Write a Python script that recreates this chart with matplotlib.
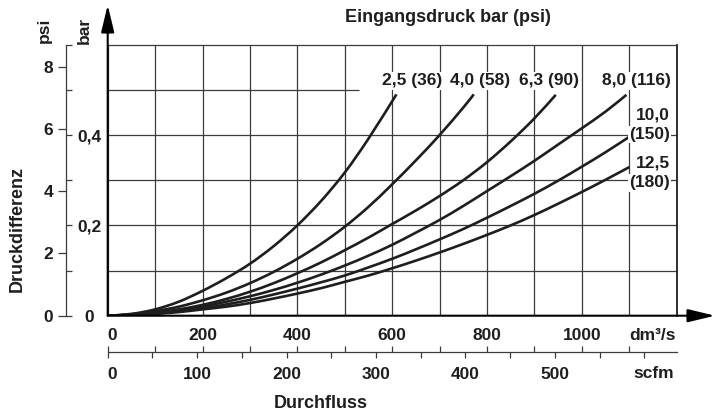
import numpy as np
import matplotlib
matplotlib.use("Agg")
import matplotlib.pyplot as plt
from matplotlib.path import Path
from matplotlib.patches import PathPatch

plt.rcParams["font.family"] = ["Liberation Sans", "DejaVu Sans"]
plt.rcParams["font.weight"] = "bold"

W, H = 715, 418
INK = "#1e1e1e"
GRID = "#3c3c3c"
FS = 12.5

# Durchfluss in dm3/s, Druckdifferenz in bar
flow_25 = [0, 50, 100, 150, 200, 250, 300, 350, 400, 450, 500, 550, 609]
dp_25 = [0, 0.004, 0.014, 0.031, 0.055, 0.083, 0.115, 0.154, 0.200, 0.254, 0.317, 0.392, 0.490]

flow_40 = [0, 50, 100, 150, 200, 250, 300, 350, 400, 450, 500, 550, 600, 650, 700, 750, 772]
dp_40 = [0, 0.003, 0.010, 0.020, 0.034, 0.051, 0.072, 0.097, 0.126, 0.159, 0.197, 0.241,
         0.291, 0.344, 0.400, 0.461, 0.490]

flow_63 = [0, 50, 100, 150, 200, 250, 300, 350, 400, 450, 500, 550, 600, 650, 700, 750,
           800, 850, 900, 945]
dp_63 = [0, 0.002, 0.007, 0.014, 0.024, 0.037, 0.053, 0.072, 0.094, 0.118, 0.145, 0.173,
         0.203, 0.233, 0.265, 0.300, 0.340, 0.386, 0.437, 0.489]

flow_80 = [0, 50, 100, 150, 200, 250, 300, 350, 400, 450, 500, 550, 600, 650, 700, 750,
           800, 850, 900, 950, 1000, 1050, 1094]
dp_80 = [0, 0.002, 0.006, 0.012, 0.020, 0.031, 0.043, 0.057, 0.073, 0.091, 0.111, 0.133,
         0.157, 0.184, 0.212, 0.243, 0.276, 0.309, 0.343, 0.379, 0.415, 0.452, 0.489]

flow_100 = [0, 50, 100, 150, 200, 250, 300, 350, 400, 450, 500, 550, 600, 650, 700, 750,
            800, 850, 900, 950, 1000, 1050, 1100]
dp_100 = [0, 0.001, 0.005, 0.010, 0.016, 0.025, 0.035, 0.047, 0.060, 0.074, 0.089, 0.107,
          0.126, 0.147, 0.169, 0.192, 0.217, 0.243, 0.270, 0.299, 0.330, 0.362, 0.396]

flow_125 = [0, 50, 100, 150, 200, 250, 300, 350, 400, 450, 500, 550, 600, 650, 700, 750,
            800, 850, 900, 950, 1000, 1050, 1100]
dp_125 = [0, 0.001, 0.004, 0.008, 0.014, 0.020, 0.028, 0.038, 0.049, 0.061, 0.075, 0.089,
          0.105, 0.122, 0.140, 0.159, 0.179, 0.200, 0.223, 0.248, 0.274, 0.301, 0.329]

curves = [(flow_25, dp_25), (flow_40, dp_40), (flow_63, dp_63),
          (flow_80, dp_80), (flow_100, dp_100), (flow_125, dp_125)]

top_labels = ["2,5 (36)", "4,0 (58)", "6,3 (90)", "8,0 (116)"]
top_label_x = [643, 786, 931, 1116]
side_labels = ["10,0", "(150)", "12,5", "(180)"]
side_label_y = [0.445, 0.401, 0.338, 0.294]

flow_ticks = [0, 200, 400, 600, 800, 1000]
scfm_ticks = [0, 100, 200, 300, 400, 500]
psi_ticks = [0, 2, 4, 6, 8]
bar_ticks = [0, 0.1, 0.2, 0.3, 0.4, 0.5, 0.6]
bar_ticklabels = ["0", "", "0,2", "", "0,4", "", ""]

X_MAX = 1200
BAR_MAX = 0.6
PSI_PER_BAR = 14.5038
SCFM_PER_DM3 = 0.5302


def smooth_path(xs, ys):
    # cubic bezier through the read points (catmull-rom tangents)
    p = np.column_stack([xs, ys]).astype(float)
    verts = [p[0]]
    codes = [Path.MOVETO]
    for i in range(len(p) - 1):
        p0 = p[i - 1] if i > 0 else p[i]
        p3 = p[i + 2] if i + 2 < len(p) else p[i + 1]
        c1 = p[i] + (p[i + 1] - p0) / 6
        c2 = p[i + 1] - (p3 - p[i]) / 6
        verts += [c1, c2, p[i + 1]]
        codes += [Path.CURVE4] * 3
    return Path(verts, codes)


L, R = 107.7 / W, 676.7 / W
B, T = 1 - 315.7 / H, 1 - 44.7 / H

fig = plt.figure(figsize=(W / 100, H / 100), dpi=100)
ax = fig.add_axes([L, B, R - L, T - B])
ax.set_xlim(0, X_MAX)
ax.set_ylim(0, BAR_MAX)

# grid
ax.set_xticks(np.arange(0, 1101, 100))
ax.set_xticklabels([str(v) if v in flow_ticks else "" for v in range(0, 1101, 100)])
ax.set_yticks([])
ax.grid(axis="x", color=GRID, lw=0.9)
ax.tick_params(axis="x", length=0, pad=9, labelsize=FS, labelcolor=INK)
ax.get_xticklabels()[0].set_ha("left")
ax.hlines([0.1, 0.2, 0.3, 0.4], 0, X_MAX, color=GRID, lw=0.9)
ax.hlines([0.5], 0, 530, color=GRID, lw=0.9)

for side in ["left", "bottom"]:
    ax.spines[side].set_visible(False)
ax.spines["top"].set_color(GRID)
ax.spines["top"].set_linewidth(0.9)
ax.spines["right"].set_color(INK)
ax.spines["right"].set_linewidth(1.3)

for flow, dp in curves:
    ax.add_patch(PathPatch(smooth_path(flow, dp), fill=False, ec=INK, lw=1.9,
                           capstyle="butt", zorder=3))

box = dict(fc="white", ec="none", pad=1)
for text, x in zip(top_labels, top_label_x):
    ax.text(x, 0.5204, text, ha="center", va="center", fontsize=FS, color=INK, bbox=box)
for text, y in zip(side_labels, side_label_y):
    ax.text(1186, y, text, ha="right", va="center", fontsize=FS, color=INK, bbox=box)

arrow = dict(arrowstyle="-|>,head_length=1.66,head_width=0.4", mutation_scale=10,
             color="black", lw=1.5, shrinkA=0, shrinkB=0)
ax.annotate("", xy=(0, (315.7 - 5) / 271), xytext=(0, 0), xycoords="axes fraction",
            arrowprops=arrow, annotation_clip=False)
ax.annotate("", xy=((715 - 107.7) / 569, 0), xytext=(0, 0), xycoords="axes fraction",
            arrowprops=arrow, annotation_clip=False)

# psi / bar scale on the left
ax_psi = fig.add_axes([66 / W, B, 0.02, T - B], facecolor="none")
ax_psi.set_ylim(0, BAR_MAX * PSI_PER_BAR)
ax_psi.set_yticks(psi_ticks)
ax_psi.set_xticks([])
for side in ["top", "right", "bottom"]:
    ax_psi.spines[side].set_visible(False)
ax_psi.spines["left"].set_color(GRID)
ax_psi.spines["left"].set_linewidth(0.9)
ax_psi.tick_params(axis="y", length=5.5, width=0.9, color=GRID, pad=3.5,
                   labelsize=FS, labelcolor=INK)

ax_bar = fig.add_axes([66 / W - 0.02, B, 0.02, T - B], facecolor="none")
ax_bar.set_ylim(0, BAR_MAX)
ax_bar.set_xticks([])
ax_bar.yaxis.tick_right()
ax_bar.set_yticks(bar_ticks)
ax_bar.set_yticklabels(bar_ticklabels)
for side in ax_bar.spines:
    ax_bar.spines[side].set_visible(False)
ax_bar.tick_params(axis="y", length=4.5, width=0.9, color=GRID, pad=12.5,
                   labelsize=FS, labelcolor=INK)
for lab in ax_bar.get_yticklabels():
    lab.set_ha("center")

# second flow scale (dm3/s up, scfm down)
sec_y = 1 - 352.3 / H
ax_dm = fig.add_axes([L, sec_y, R - L, 0.02], facecolor="none")
ax_dm.set_xlim(0, X_MAX)
ax_dm.set_xticks(np.arange(0, 1101, 100))
ax_dm.set_yticks([])
for side in ["top", "right", "left"]:
    ax_dm.spines[side].set_visible(False)
ax_dm.spines["bottom"].set_color(GRID)
ax_dm.spines["bottom"].set_linewidth(0.9)
ax_dm.tick_params(axis="x", direction="in", length=4, width=0.9, color=GRID, labelbottom=False)

ax_sc = fig.add_axes([L, sec_y, R - L, 0.02], facecolor="none")
ax_sc.set_xlim(0, X_MAX * SCFM_PER_DM3)
ax_sc.set_xticks(np.arange(0, 601, 50))
ax_sc.set_xticklabels([str(v) if v in scfm_ticks else "" for v in range(0, 601, 50)])
ax_sc.set_yticks([])
for side in ax_sc.spines:
    ax_sc.spines[side].set_visible(False)
ax_sc.tick_params(axis="x", direction="out", length=4, width=0.9, color=GRID, pad=6.5,
                  labelsize=FS, labelcolor=INK)
ax_sc.get_xticklabels()[0].set_ha("left")


def ftext(x, y, s, **kw):
    fig.text(x / W, 1 - y / H, s, fontsize=kw.pop("fontsize", FS), color=INK,
             ha=kw.pop("ha", "center"), va=kw.pop("va", "center"), **kw)


ftext(448, 17, "Eingangsdruck bar (psi)", fontsize=13)
ftext(321, 404, "Durchfluss", fontsize=13)
ftext(17, 229, "Druckdifferenz", fontsize=13, rotation=90)
ftext(44, 30, "psi", rotation=90)
ftext(84, 30, "bar", rotation=90)
ftext(653, 335, "dm³/s")
ftext(654, 373, "scfm")

fig.savefig("out.png", dpi=100)
